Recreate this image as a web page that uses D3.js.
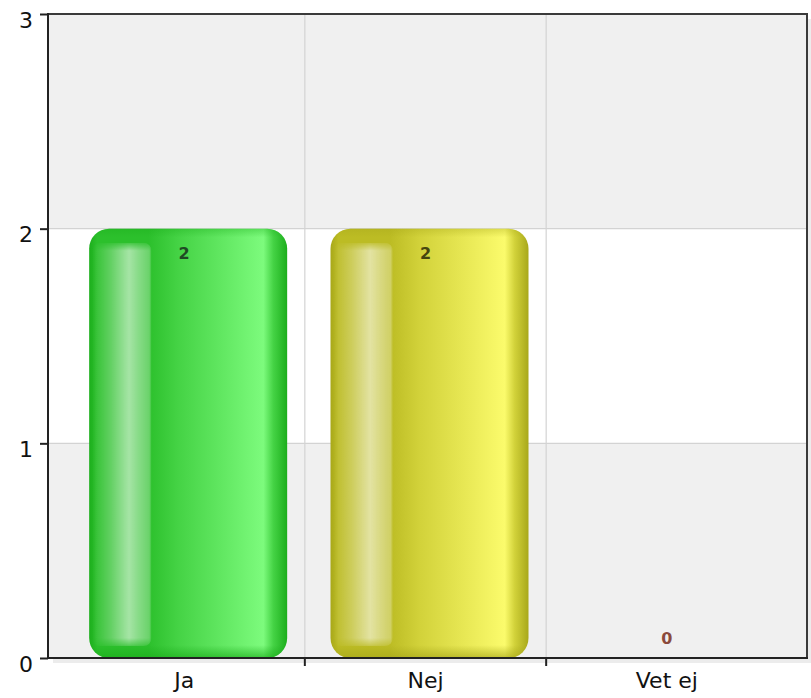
<!DOCTYPE html>
<html>
<head>
<meta charset="utf-8">
<script src="https://cdn.jsdelivr.net/npm/d3@7"></script>
<style>
  html, body { margin: 0; padding: 0; background: #ffffff; }
  svg { display: block; }
  text { font-family: "DejaVu Sans", sans-serif; }
</style>
</head>
<body>
<svg id="chart" width="811" height="698"></svg>
<script>
// ---- data ----
const categories = ["Ja", "Nej", "Vet ej"];
const values = [2, 2, 0];
const yTickValues = [0, 1, 2, 3];
const yDomain = [0, 3];

// ---- styles ----
const palettes = [
  { edge: "#1cae1c", dark: "#2cc02c", mid: "#45d345", light: "#7dfb7d", label: "#1f4a24" },
  { edge: "#a8a81a", dark: "#bcbc24", mid: "#d2d23a", light: "#fbfb6c", label: "#46460f" },
  { edge: "#c04040", dark: "#d05050", mid: "#e06060", light: "#f08080", label: "#8b4a3c" }
];

const plot = { left: 48, right: 807, top: 14, bottom: 658 };

const svg = d3.select("#chart");
const defs = svg.append("defs");

const y = d3.scaleLinear().domain(yDomain).range([plot.bottom, plot.top]);
const x = d3.scaleBand().domain(categories).range([63.5, 787.5]).padding(0);

// drop shadow
svg.append("rect")
  .attr("x", plot.left + 5).attr("y", plot.top + 5)
  .attr("width", plot.right - plot.left).attr("height", plot.bottom - plot.top)
  .attr("fill", "#ececec");

// plot background bands
const bands = d3.pairs(yTickValues);
svg.append("g").selectAll("rect").data(bands).join("rect")
  .attr("x", plot.left).attr("width", plot.right - plot.left)
  .attr("y", d => y(d[1])).attr("height", d => y(d[0]) - y(d[1]))
  .attr("fill", (d, i) => i % 2 === 0 ? "#f0f0f0" : "#ffffff");

// horizontal gridlines
svg.append("g").selectAll("line").data(yTickValues.slice(1, -1)).join("line")
  .attr("x1", plot.left).attr("x2", plot.right)
  .attr("y1", d => y(d)).attr("y2", d => y(d))
  .attr("stroke", "#d3d3d3").attr("stroke-width", 1.2);

// vertical gridlines at category boundaries
const boundaries = categories.slice(0, -1).map(c => x(c) + x.bandwidth());
svg.append("g").selectAll("line").data(boundaries).join("line")
  .attr("x1", d => d).attr("x2", d => d)
  .attr("y1", plot.top).attr("y2", plot.bottom)
  .attr("stroke", "#d3d3d3").attr("stroke-width", 1.2);

// gradients
palettes.forEach((p, i) => {
  const g = defs.append("linearGradient").attr("id", "barGrad" + i)
    .attr("x1", "0").attr("x2", "1").attr("y1", "0").attr("y2", "0");
  [[0, p.edge], [0.04, p.dark], [0.3, p.dark], [0.45, p.mid], [0.88, p.light], [0.93, p.mid], [1, p.edge]]
    .forEach(s => g.append("stop").attr("offset", s[0]).attr("stop-color", s[1]));
  const v = defs.append("linearGradient").attr("id", "barShade" + i)
    .attr("x1", "0").attr("x2", "0").attr("y1", "0").attr("y2", "1");
  [[0, p.edge, 0.35], [0.02, p.edge, 0], [0.97, p.edge, 0], [1, p.edge, 0.7]]
    .forEach(s => v.append("stop").attr("offset", s[0]).attr("stop-color", s[1]).attr("stop-opacity", s[2]));
});
const hl = defs.append("linearGradient").attr("id", "hlGrad")
  .attr("x1", "0").attr("x2", "1").attr("y1", "0").attr("y2", "0");
[[0, 0], [0.3, 0.25], [0.62, 0.58], [0.8, 0.42], [0.96, 0.3], [1, 0.05]]
  .forEach(s => hl.append("stop").attr("offset", s[0]).attr("stop-color", "#ffffff").attr("stop-opacity", s[1]));
const hlV = defs.append("linearGradient").attr("id", "hlMaskGrad")
  .attr("x1", "0").attr("x2", "0").attr("y1", "0").attr("y2", "1");
[[0, 0.2], [0.02, 1], [0.98, 1], [1, 0.3]]
  .forEach(s => hlV.append("stop").attr("offset", s[0]).attr("stop-color", "#ffffff").attr("stop-opacity", s[1]));
defs.append("mask").attr("id", "hlMask").attr("maskContentUnits", "objectBoundingBox")
  .append("rect").attr("x", 0).attr("y", 0).attr("width", 1).attr("height", 1).attr("fill", "url(#hlMaskGrad)");

// bars
const barW = 198, barShift = 4, r = 20;
const data = categories.map((c, i) => ({ c, v: values[i], i }));
const barG = svg.append("g");
data.filter(d => d.v > 0).forEach(d => {
  const cx = x(d.c) + x.bandwidth() / 2 + barShift;
  const x0 = cx - barW / 2;
  const y0 = y(d.v), h = y(0) - y(d.v);
  barG.append("rect").attr("x", x0).attr("y", y0).attr("width", barW).attr("height", h)
    .attr("rx", r).attr("ry", r).attr("fill", `url(#barGrad${d.i})`);
  barG.append("rect").attr("x", x0 + 3).attr("y", y0 + 14).attr("width", barW * 0.3).attr("height", h - 26)
    .attr("rx", 8).attr("ry", 8).attr("fill", "url(#hlGrad)").attr("mask", "url(#hlMask)");
  barG.append("rect").attr("x", x0).attr("y", y0).attr("width", barW).attr("height", h)
    .attr("rx", r).attr("ry", r).attr("fill", `url(#barShade${d.i})`);
});

// value labels
svg.append("g").selectAll("text").data(data).join("text")
  .attr("x", d => x(d.c) + x.bandwidth() / 2)
  .attr("y", d => d.v > 0 ? y(d.v) + 30 : y(0) - 14)
  .attr("text-anchor", "middle")
  .attr("font-size", 16).attr("font-weight", "bold")
  .attr("fill", d => palettes[d.i].label)
  .text(d => d.v);

// plot border (top/right)
svg.append("path")
  .attr("d", `M${plot.left},${plot.top}H${plot.right}V${plot.bottom}`)
  .attr("fill", "none").attr("stroke", "#3a3a3a").attr("stroke-width", 2);

// y axis
const yAxis = svg.append("g").attr("transform", `translate(${plot.left},0)`)
  .call(d3.axisLeft(y).tickValues(yTickValues).tickFormat(d3.format("d")).tickSize(8).tickPadding(7));
yAxis.select(".domain").attr("stroke", "#222").attr("stroke-width", 2)
  .attr("d", `M0,${plot.top - 1}V${plot.bottom + 1}`);
yAxis.selectAll(".tick line").attr("stroke", "#222").attr("stroke-width", 2);
yAxis.selectAll(".tick text").attr("font-size", 22).attr("fill", "#111")
  .attr("font-family", "DejaVu Sans, sans-serif").attr("dy", "0.6em");

// x axis
const xAxis = svg.append("g").attr("transform", `translate(0,${plot.bottom})`)
  .call(d3.axisBottom(x).tickSize(0).tickPadding(15));
xAxis.select(".domain").attr("stroke", "#222").attr("stroke-width", 2)
  .attr("d", `M${plot.left - 1},0H${plot.right + 1}`);
xAxis.selectAll(".tick text").attr("font-size", 22).attr("fill", "#111")
  .attr("font-family", "DejaVu Sans, sans-serif").attr("dy", "0.7em");
xAxis.selectAll("line.bound").data(boundaries).join("line").attr("class", "bound")
  .attr("x1", d => d).attr("x2", d => d).attr("y1", 0).attr("y2", 8)
  .attr("stroke", "#222").attr("stroke-width", 2);
</script>
</body>
</html>
